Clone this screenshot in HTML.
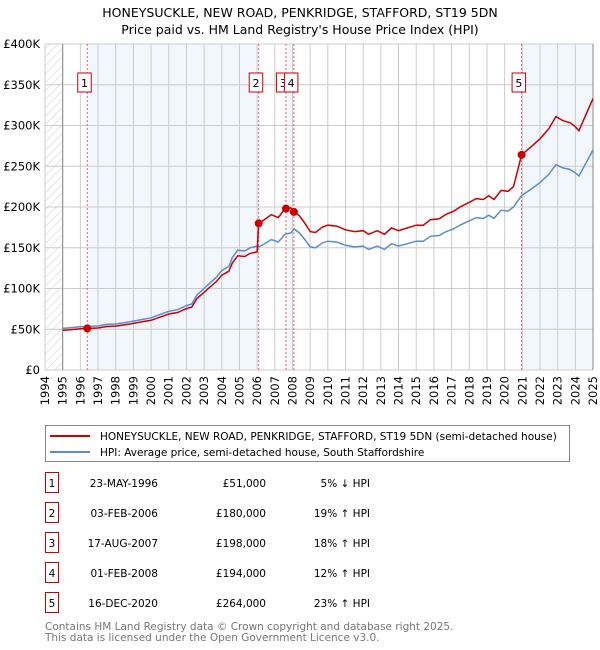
<!DOCTYPE html>
<html><head><meta charset="utf-8"><style>
body{margin:0;background:#fff;font-family:"DejaVu Sans","Liberation Sans",sans-serif;}
svg{display:block}
</style></head><body>
<svg id="chart" width="600" height="650" viewBox="0 0 600 650" font-family="DejaVu Sans, Liberation Sans, sans-serif">
<defs><pattern id="hatch" width="6" height="6" patternUnits="userSpaceOnUse" patternTransform="rotate(45)"><line x1="0" y1="0" x2="0" y2="6" stroke="#ccc" stroke-width="1"/></pattern></defs>
<text x="300" y="17" text-anchor="middle" font-size="12.5" fill="#000">HONEYSUCKLE, NEW ROAD, PENKRIDGE, STAFFORD, ST19 5DN</text>
<text x="300" y="34" text-anchor="middle" font-size="12.5" fill="#000">Price paid vs. HM Land Registry's House Price Index (HPI)</text>
<g id="plot"></g>
<g>
<rect x="45.5" y="425.5" width="524" height="36" fill="#fff" stroke="#888"/>
<line x1="50" y1="436" x2="90" y2="436" stroke="#cc0000" stroke-width="2"/>
<text x="100" y="440" font-size="10.5">HONEYSUCKLE, NEW ROAD, PENKRIDGE, STAFFORD, ST19 5DN (semi-detached house)</text>
<line x1="50" y1="452" x2="90" y2="452" stroke="#5b8bd0" stroke-width="2"/>
<text x="100" y="456" font-size="10.5">HPI: Average price, semi-detached house, South Staffordshire</text>
</g>
<g id="table" font-size="10.5"></g>
<text x="45" y="630" font-size="10.5" fill="#777">Contains HM Land Registry data © Crown copyright and database right 2025.</text>
<text x="45" y="641" font-size="10.5" fill="#777">This data is licensed under the Open Government Licence v3.0.</text>
</svg>
<script>
const hpiYears=[1995,1995.5,1996,1996.4,1997,1997.5,1998,1998.5,1999,1999.5,2000,2000.5,2001,2001.5,2002,2002.3,2002.6,2003,2003.3,2003.7,2004,2004.4,2004.6,2004.9,2005.3,2005.6,2006,2006.1,2006.5,2006.8,2007.2,2007.6,2007.9,2008.1,2008.4,2008.7,2009,2009.3,2009.7,2010,2010.5,2011,2011.5,2012,2012.3,2012.8,2013.2,2013.6,2014,2014.5,2015,2015.4,2015.8,2016.3,2016.7,2017.1,2017.5,2018,2018.4,2018.8,2019.1,2019.4,2019.8,2020.2,2020.5,2020.96,2021.5,2022,2022.5,2022.9,2023.3,2023.7,2024,2024.2,2024.5,2024.8,2025];
const hpiValues=[51,52,53,53.5,54,56,56.5,58,60,62,64,68,72,74,79,81,92,100,106,114,122,127,138,147,146,150,152,151,156,160,157,167,168,173,168,160,151,150,156,158,157,153,151,152,148,152,148,155,152,155,158,158,164,165,170,173,178,183,187,186,190,186,196,195,200,214,222,230,240,252,248,246,242,238,250,262,270];
const saleLabels=["1","2","3","4","5"];
const saleYears=[1996.39,2006.09,2007.63,2008.08,2020.96];
const salePrices=[51,180,198,194,264];
const saleDates=["23-MAY-1996","03-FEB-2006","17-AUG-2007","01-FEB-2008","16-DEC-2020"];
const saleText=["£51,000","£180,000","£198,000","£194,000","£264,000"];
const saleDiff=["5% ↓ HPI","19% ↑ HPI","18% ↑ HPI","12% ↑ HPI","23% ↑ HPI"];
const yTicks=[0,50,100,150,200,250,300,350,400];
const yTickLabels=["£0","£50K","£100K","£150K","£200K","£250K","£300K","£350K","£400K"];

const NS="http://www.w3.org/2000/svg";
const L=45,R=593,T=44,B=370,Y0=1994,Y1=2025,VMAX=400;
const xs=y=>L+(y-Y0)/(Y1-Y0)*(R-L);
const ys=v=>B-v/VMAX*(B-T);
function mk(tag,attrs,parent){const e=document.createElementNS(NS,tag);for(const k in attrs)e.setAttribute(k,attrs[k]);parent.appendChild(e);return e;}
function hpiAt(t){for(let i=1;i<hpiYears.length;i++){if(t<=hpiYears[i]){const f=(t-hpiYears[i-1])/(hpiYears[i]-hpiYears[i-1]);return hpiValues[i-1]+f*(hpiValues[i]-hpiValues[i-1]);}}return hpiValues[hpiValues.length-1];}
const g=document.getElementById('plot');
let e;
e=mk('rect',{x:L,y:T,width:R-L+2,height:B-T,fill:'#fff'},g);

const shades=[[0,1],[2,3],[4,null]];
shades.forEach((s,i)=>{const a=xs(saleYears[s[0]]),b=s[1]===null?R:xs(saleYears[s[1]]);
e=mk('rect',{x:a,y:T,width:b-a,height:B-T,fill:'#f2f6fd'},g);
});
e=mk('rect',{x:L,y:T,width:xs(1995)-L,height:B-T,fill:'url(#hatch)'},g);

for(let y=Y0;y<=Y1;y++){e=mk('line',{x1:xs(y),x2:xs(y),y1:T,y2:B,stroke:'#ccc','stroke-width':1},g);

const tx=mk('text',{x:0,y:0,'font-size':11.5,'text-anchor':'end',transform:`translate(${xs(y)+4},${B+6}) rotate(-90)`},g);tx.textContent=y;
}
yTicks.forEach((v,i)=>{e=mk('line',{x1:L,x2:R,y1:ys(v),y2:ys(v),stroke:'#ccc','stroke-width':1},g);

const tx=mk('text',{x:L-5,y:ys(v)+4,'font-size':11.5,'text-anchor':'end'},g);tx.textContent=yTickLabels[i];
});
e=mk('line',{x1:xs(1995),x2:xs(1995),y1:T,y2:B,stroke:'#888'},g);

e=mk('line',{x1:R,x2:R,y1:T,y2:B,stroke:'#888'},g);

saleYears.forEach((sy,i)=>{e=mk('line',{x1:xs(sy),x2:xs(sy),y1:T,y2:B,stroke:'#f06060','stroke-dasharray':'2,2','stroke-width':1},g);
});
let d='';hpiYears.forEach((t,i)=>{d+=(i?'L':'M')+xs(t).toFixed(1)+','+ys(hpiValues[i]).toFixed(1);});
e=mk('path',{d:d,fill:'none',stroke:'#5b8bd0','stroke-width':1.5},g);

function saleIdx(t){let k=0;for(let i=0;i<saleYears.length;i++)if(t>=saleYears[i])k=i;return k;}
const pts=[...hpiYears,...saleYears].sort((a,b)=>a-b);
d='';pts.forEach((t,i)=>{const k=saleIdx(t);const v=salePrices[k]*hpiAt(t)/hpiAt(saleYears[k]);d+=(i?'L':'M')+xs(t).toFixed(1)+','+ys(v).toFixed(1);});
e=mk('path',{d:d,fill:'none',stroke:'#cc0000','stroke-width':1.5},g);

saleYears.forEach((sy,i)=>{e=mk('circle',{cx:xs(sy),cy:ys(salePrices[i]),r:4,fill:'#cc0000'},g);

const bx=xs(sy)-9.5;
const r=mk('rect',{x:bx,y:73,width:13.5,height:19,fill:'#fff',stroke:'#cc0000'},g);

const tx=mk('text',{x:bx+6.75,y:87,'font-size':11,'text-anchor':'middle'},g);tx.textContent=saleLabels[i];
});
const tb=document.getElementById('table');
const rowY=[483,513,543,573,603];
saleLabels.forEach((lab,i)=>{const y=rowY[i];
e=mk('rect',{x:45.5,y:y-10.5,width:13,height:20,fill:'#fff',stroke:'#cc0000'},tb);

const c=[[52,lab,'middle'],[158,saleDates[i],'end'],[266,saleText[i],'end'],[370,saleDiff[i],'end']];
c.forEach(cc=>{const t=mk('text',{x:cc[0],y:y+4,'text-anchor':cc[2]},tb);t.textContent=cc[1];
});});
</script>
</body></html>
